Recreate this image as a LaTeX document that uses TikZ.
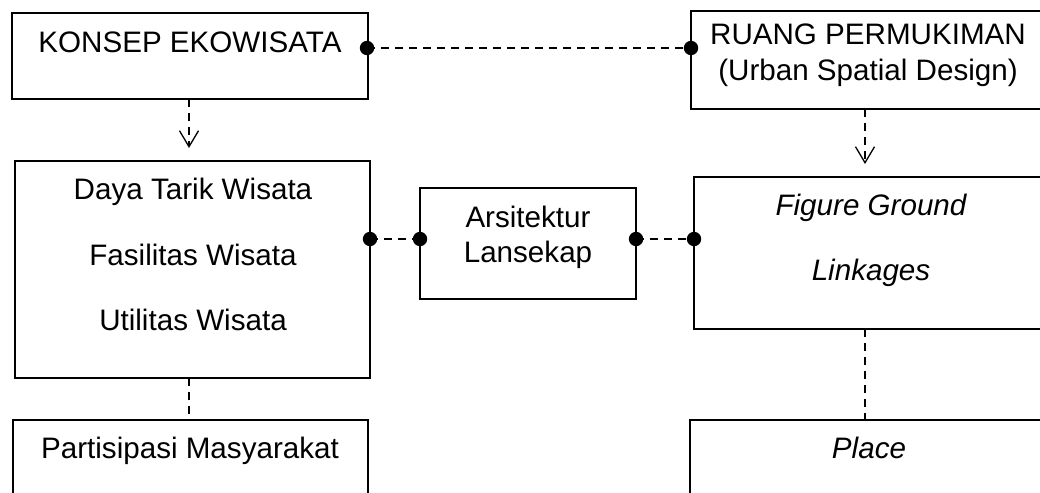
\documentclass[tikz,border=0pt]{standalone}
\usepackage{fontspec}
\setmainfont{Liberation Sans}
\usetikzlibrary{arrows.meta,calc}
\tikzset{
  boxshape/.style={draw, line width=1.8pt, rectangle, inner sep=0pt, outer sep=0pt, anchor=north west},
  lbl/.style={anchor=base, inner sep=0pt, font=\fontsize{29.6pt}{35pt}\selectfont},
  ilbl/.style={lbl, font=\fontsize{29.6pt}{35pt}\selectfont\itshape},
  conn/.style={line width=1.6pt, dash pattern=on 8pt off 6pt},
  arr/.style={conn, -{Straight Barb[length=16pt, width=19pt, line width=1.3pt]}, shorten >=13pt},
  dotfill/.style={fill=black}
}
\begin{document}
\begin{tikzpicture}[x=1pt, y=-1pt]
\useasboundingbox (0,0) rectangle (1040,492);
\clip (0,0) rectangle (1040,492);
\fill[white] (0,0) rectangle (1040,492);
% boxes
\node[boxshape, minimum width=356pt, minimum height=86pt] (konsep) at (12,13) {};
\node[boxshape, minimum width=354pt, minimum height=98pt] (ruang) at (691,11) {};
\node[boxshape, minimum width=355pt, minimum height=217pt] (daya) at (15,161) {};
\node[boxshape, minimum width=216pt, minimum height=111pt] (arsi) at (420,188) {};
\node[boxshape, minimum width=351pt, minimum height=152pt] (fig) at (694,177) {};
\node[boxshape, minimum width=355pt, minimum height=80pt] (part) at (13,420) {};
\node[boxshape, minimum width=355pt, minimum height=80pt] (place) at (690,420) {};
% texts
\node[lbl] (tkonsep) at (190,53) {KONSEP EKOWISATA};
\node[lbl] (truang1) at (868,45) {RUANG PERMUKIMAN};
\node[lbl] (truang2) at (868,81) {(Urban Spatial Design)};
\node[lbl] (tdaya) at (193,199) {Daya Tarik Wisata};
\node[lbl] (tfas) at (193,265) {Fasilitas Wisata};
\node[lbl] (tutil) at (193,330) {Utilitas Wisata};
\node[lbl] (tarsi1) at (528,227) {Arsitektur};
\node[lbl] (tarsi2) at (528,262) {Lansekap};
\node[ilbl] (tfig) at (871,215) {Figure Ground};
\node[ilbl] (tlink) at (871,280) {Linkages};
\node[lbl] (tpart) at (190,458) {Partisipasi Masyarakat};
\node[ilbl] (tplace) at (869,458) {Place};
% connector end points
\coordinate (k1) at ($(konsep.north east)+(-1,35)$);
\coordinate (r1) at (ruang.west |- k1);
\coordinate (d1) at ($(arsi.west)+(0,-4.5)$);
\coordinate (d0) at (daya.east |- d1);
\coordinate (a2) at (arsi.east |- d1);
\coordinate (f1) at (fig.west |- d1);
\coordinate (ks) at ($(konsep.south)+(-1,0)$);
\coordinate (rs) at ($(ruang.south)+(-3,0)$);
\coordinate (ds) at ($(daya.south)+(-3.5,0)$);
\coordinate (fs) at ($(fig.south)+(-4.5,0)$);
% connectors
\draw[conn] (k1) -- (r1);
\draw[conn] (d0) -- (d1);
\draw[conn] (a2) -- (f1);
\draw[arr] (ks) -- (ks |- daya.north);
\draw[arr] (rs) -- (rs |- fig.north);
\draw[conn] (ds) -- (ds |- part.north);
\draw[conn] (fs) -- (fs |- place.north);
% dots
\foreach \p in {k1,r1,d0,d1,a2,f1}{\fill[dotfill] (\p) circle (7.2pt);}
\end{tikzpicture}
\end{document}
